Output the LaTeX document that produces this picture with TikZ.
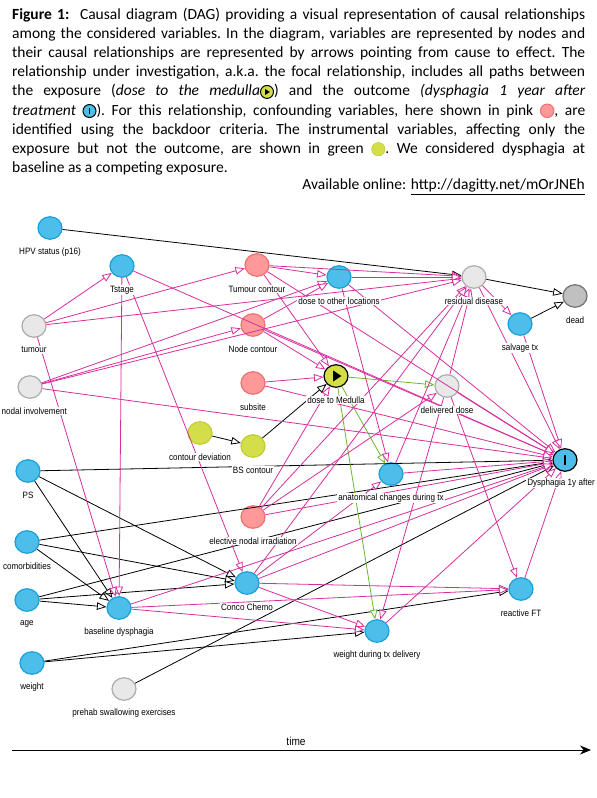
\documentclass[tikz,border=0pt]{standalone}
\usepackage{fontspec}
\setmainfont{Carlito}
\newfontfamily\lblfont[FakeStretch=0.88]{Liberation Sans}
\usetikzlibrary{arrows.meta,shapes.geometric,positioning}

\definecolor{ancfill}{RGB}{77,190,233}
\definecolor{ancdraw}{RGB}{24,160,220}
\definecolor{conffill}{RGB}{255,153,153}
\definecolor{confdraw}{RGB}{240,112,112}
\definecolor{restfill}{RGB}{232,232,232}
\definecolor{restdraw}{RGB}{172,172,172}
\definecolor{deadfill}{RGB}{192,192,192}
\definecolor{deaddraw}{RGB}{112,112,112}
\definecolor{instfill}{RGB}{212,222,74}
\definecolor{instdraw}{RGB}{192,206,52}
\definecolor{biaspink}{RGB}{214,46,158}
\definecolor{causalgreen}{RGB}{106,184,46}

% small icons for the caption
\newcommand{\expicon}{\raisebox{-3pt}{\tikz{\node[circle,draw=black,line width=1pt,fill=instfill,minimum size=13pt,inner sep=0pt] (e) {};
    \fill ([xshift=-1.8pt,yshift=-3pt]e.center) -- ++(0pt,6pt) -- ++(4.6pt,-3pt) -- cycle;}}}
\newcommand{\outicon}{\raisebox{-3pt}{\tikz{\node[circle,draw=black,line width=1pt,fill=ancfill,minimum size=13pt,inner sep=0pt] (o) {};
    \fill ([xshift=-0.8pt,yshift=-3.3pt]o.center) rectangle ++(1.6pt,6.6pt);}}}
\newcommand{\confdot}{\raisebox{-3pt}{\tikz{\node[circle,draw=confdraw,line width=1pt,fill=conffill,minimum size=13.5pt,inner sep=0pt] (c) {};}}}
\newcommand{\instdot}{\raisebox{-3pt}{\tikz{\node[circle,draw=instdraw,line width=0.5pt,fill=instfill,minimum size=13.5pt,inner sep=0pt] (i) {};}}}

\begin{document}
\begin{tikzpicture}[x=1pt,y=-1pt,
    var/.style={ellipse,minimum width=24pt,minimum height=22.5pt,inner sep=0pt,line width=1.2pt},
    ancestor/.style={var,draw=ancdraw,fill=ancfill},
    confounder/.style={var,draw=confdraw,fill=conffill},
    unrelated/.style={var,draw=restdraw,fill=restfill},
    endnode/.style={var,draw=deaddraw,fill=deadfill},
    instrument/.style={var,draw=instdraw,fill=instfill},
    exposure/.style={var,draw=black,fill=instfill},
    outcome/.style={var,draw=black,fill=ancfill},
    lbl/.style={font=\lblfont\fontsize{9.2}{10}\selectfont,fill=white,inner sep=1pt},
    plain/.style={draw=black,line width=0.8pt,-{Triangle[length=9.5pt,width=7.5pt,fill=white]}},
    biasing/.style={plain,draw=biaspink},
    causal/.style={plain,draw=causalgreen}
]
    \useasboundingbox (0,0) rectangle (597,798);

    \node[anchor=north west,text width=573pt,inner sep=0pt,align=justify,
        font=\fontsize{15.5}{19.1}\selectfont] (caption) at (12,8)
        {\frenchspacing\hyphenpenalty=10000\textbf{Figure 1:}\ \ Causal diagram (DAG) providing a visual representation of causal relationships\linebreak
        among the considered variables. In the diagram, variables are represented by nodes and\linebreak
        their causal relationships are represented by arrows pointing from cause to effect. The\linebreak
        relationship under investigation, a.k.a. the focal relationship, includes all paths between\linebreak
        the exposure (\textit{dose to the medulla}\expicon) and the outcome \textit{(dysphagia 1 year after\linebreak
        treatment} \outicon). For this relationship, confounding variables, here shown in pink \confdot, are\linebreak
        identified using the backdoor criteria. The instrumental variables, affecting only the\linebreak
        exposure but not the outcome, are shown in green \instdot. We considered dysphagia at\linebreak
        baseline as a competing exposure.};
    \node[anchor=north east,inner sep=0pt,font=\fontsize{15.5}{19.1}\selectfont] (online) at (585,179)
        {Available online: \underline{http://dagitty.net/mOrJNEh}};

    % variables
    \foreach \name/\kind/\x/\y in {
        hpv/ancestor/50/228, tstage/ancestor/122/266, tcont/confounder/257/265,
        dother/ancestor/339/277, resid/unrelated/474/277, dead/endnode/575/296,
        tumour/unrelated/34/326, ncont/confounder/253/325, salv/ancestor/520/324,
        nodal/unrelated/30/387, subsite/confounder/253/383, med/exposure/336/376,
        deliv/unrelated/447/386, cdev/instrument/200/433, bs/instrument/253/446,
        dys/outcome/565/460, ps/ancestor/28/471, anat/ancestor/391/474,
        eni/confounder/253/517, comorb/ancestor/27/542, chemo/ancestor/247/583,
        rft/ancestor/521/589, age/ancestor/27/600, base/ancestor/119/608,
        wtx/ancestor/377/631, weight/ancestor/32/663, prehab/unrelated/124/689} {
        \node[\kind] (\name) at (\x,\y) {};
    }

    % arrows
    \foreach \from/\to in {hpv/resid, resid/dead, salv/dead, cdev/bs, bs/med,
        ps/dys, ps/base, ps/chemo, comorb/dys, comorb/chemo, comorb/base,
        age/dys, age/chemo, age/base, weight/wtx, weight/rft, prehab/dys}
        \draw[plain] (\from) -- (\to);
    \foreach \from/\to in {med/deliv, med/anat, med/wtx}
        \draw[causal] (\from) -- (\to);
    \foreach \from/\to in {tumour/tstage, tumour/tcont, tumour/resid, tumour/base,
        nodal/ncont, nodal/dother, nodal/resid, nodal/dys,
        tstage/base, tstage/chemo, tstage/dys,
        tcont/dother, tcont/resid, tcont/med, tcont/dys,
        ncont/dother, ncont/med, ncont/dys, subsite/med, subsite/dys,
        dother/resid, dother/anat, dother/dys, resid/salv, resid/dys, salv/dys,
        deliv/resid, deliv/dys, deliv/rft, deliv/wtx, anat/resid, anat/dys,
        eni/med, eni/resid, eni/deliv, eni/dys,
        chemo/anat, chemo/resid, chemo/dys, chemo/wtx, chemo/rft,
        base/dys, base/wtx, base/rft, wtx/dys, rft/dys}
        \draw[biasing] (\from) -- (\to);

    \fill (med.center) ++(-2.8,-5.5) -- ++(0,11) -- ++(8.2,-5.5) -- cycle;
    \fill (dys.center) ++(-1.4,-5) rectangle ++(2.8,10);

    % labels
    \foreach \name/\text in {
        hpv/HPV status (p16), tstage/Tstage, tcont/Tumour contour,
        dother/dose to other locations, resid/residual disease, dead/dead,
        tumour/tumour, ncont/Node contour, salv/salvage tx,
        subsite/subsite, med/dose to Medulla,
        deliv/delivered dose, cdev/contour deviation, bs/BS contour,
        ps/PS, anat/anatomical changes during tx,
        eni/elective nodal irradiation, comorb/comorbidities, chemo/Conco Chemo,
        rft/reactive FT, age/age, base/baseline dysphagia,
        wtx/weight during tx delivery, weight/weight,
        prehab/prehab swallowing exercises} {
        \node[lbl] (\name-lbl) at ([yshift=-24pt]\name.center) {\text};
    }
    \node[lbl,anchor=west] (nodal-lbl) at (0.5,411) {nodal involvement};
    \node[lbl] (dys-lbl) at ([xshift=-4pt,yshift=-23pt]dys.center) {Dysphagia 1y after};

    % time axis
    \coordinate (t-start) at (12,750);
    \coordinate (t-end) at (591,750);
    \draw[line width=1pt,-{Stealth[length=11pt,width=9pt]}] (t-start) -- (t-end);
    \node[font=\lblfont\fontsize{11.5}{13}\selectfont] (time) at (296,741) {time};
\end{tikzpicture}
\end{document}
